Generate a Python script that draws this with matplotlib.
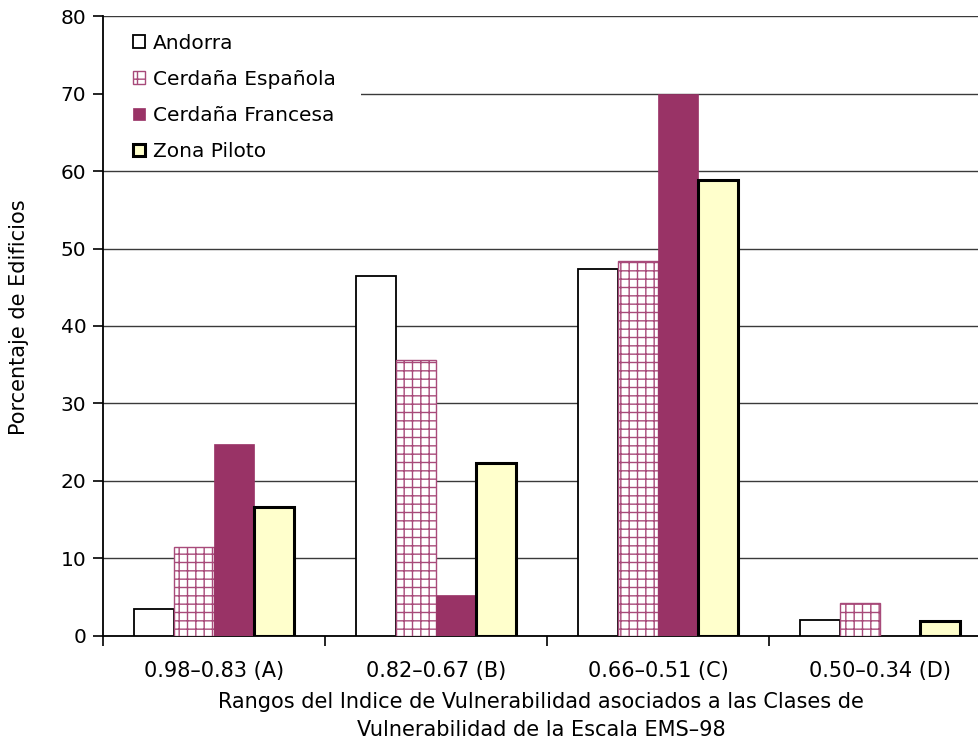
import matplotlib.pyplot as plt
from matplotlib.patches import Rectangle
import numpy as np

# Data
categories = ['0.98–0.83 (A)', '0.82–0.67 (B)', '0.66–0.51 (C)', '0.50–0.34 (D)']
series_names = ['Andorra', 'Cerdaña Española', 'Cerdaña Francesa', 'Zona Piloto']
andorra = [3.5, 46.5, 47.3, 2.1]
cerdana_esp = [11.5, 35.6, 48.4, 4.3]
cerdana_fra = [24.8, 5.3, 69.9, 0.0]
zona_piloto = [16.6, 22.3, 58.8, 1.9]

plt.rcParams['font.family'] = ['DejaVu Sans']
plt.rcParams['hatch.linewidth'] = 1.0

fig = plt.figure(figsize=(9.79, 7.42), dpi=100)
ax = fig.add_axes([0.1052, 0.1429, 0.8948, 0.8355])

x = np.arange(len(categories))
w = 0.18
plum = '#993366'

ax.bar(x - 1.5 * w, andorra, w, color='white', edgecolor='black', linewidth=1.3,
       label=series_names[0], zorder=3)
ax.bar(x - 0.5 * w, cerdana_esp, w, color='white', edgecolor='#a84a7a', hatch='++',
       linewidth=1.0, label=series_names[1], zorder=3)
ax.bar(x + 0.5 * w, cerdana_fra, w, color=plum, edgecolor=plum, linewidth=0.5,
       label=series_names[2], zorder=3)
ax.bar(x + 1.5 * w, zona_piloto, w, color='#FFFFCC', edgecolor='black', linewidth=2.2,
       label=series_names[3], zorder=3)

ax.set_xlim(-0.5, 3.445)
ax.set_ylim(0, 80)
ax.set_yticks(np.arange(0, 81, 10))
ax.yaxis.grid(True, color='#3a3a3a', linewidth=1.0, zorder=0)
ax.set_axisbelow(True)

ax.set_xticks(x)
ax.set_xticklabels(categories, fontsize=15)
ax.set_xticks(np.arange(-0.5, 3.0, 1.0), minor=True)
ax.tick_params(axis='x', which='major', length=0, pad=18)
ax.tick_params(axis='x', which='minor', length=7, width=1.2, direction='out')
ax.tick_params(axis='y', length=7, width=1.2, direction='out', labelsize=14.5, pad=5)

for s in ['top', 'right']:
    ax.spines[s].set_visible(False)
for s in ['left', 'bottom']:
    ax.spines[s].set_linewidth(1.3)
    ax.spines[s].set_color('black')

ax.set_ylabel('Porcentaje de Edificios', fontsize=15)
ax.yaxis.set_label_coords(-0.085, 0.515)
ax.set_xlabel('Rangos del Indice de Vulnerabilidad asociados a las Clases de\n'
              'Vulnerabilidad de la Escala EMS–98', fontsize=15, labelpad=8,
              linespacing=1.5)

# white box behind the legend (hides the gridline under it, like the original)
ax.add_patch(Rectangle((0.0, 0.757), 0.294, 0.236, transform=ax.transAxes,
                       facecolor='white', edgecolor='none', zorder=1))

leg = ax.legend(loc='upper left', bbox_to_anchor=(0.018, 0.994), fontsize=14.5,
                frameon=False, handlelength=0.6, handleheight=0.6,
                handletextpad=0.4, labelspacing=0.85, borderpad=0.7,
                borderaxespad=0.0)
leg.set_zorder(5)

fig.savefig('out.png', dpi=100)
